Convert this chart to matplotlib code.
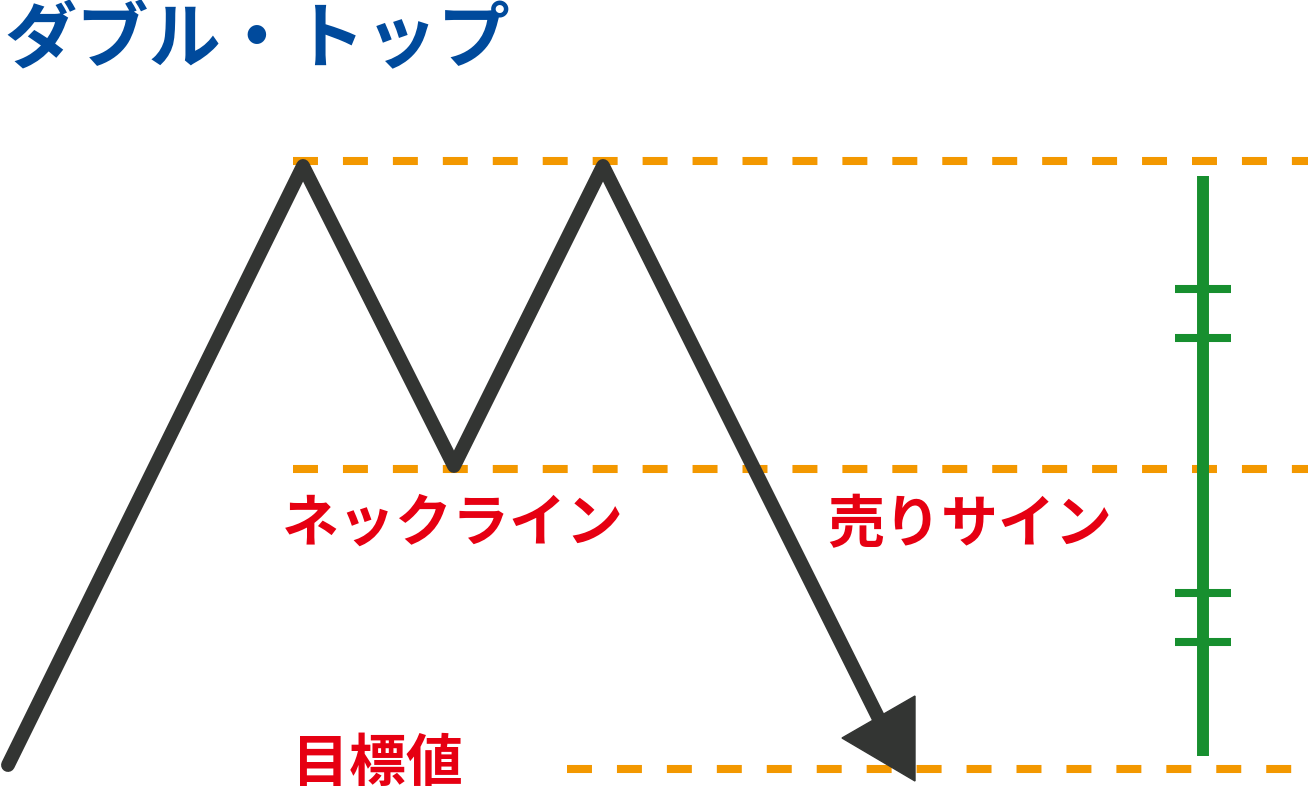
import matplotlib
matplotlib.use('Agg')
import matplotlib.pyplot as plt

plt.rcParams['font.family'] = ['Noto Sans CJK JP', 'DejaVu Sans']

# Price path of the double top (pixel-like coords, y grows downward)
path_x = [8, 303, 454, 603, 878]
path_y = [765, 166, 466, 166, 717]

# Arrowhead at the end of the path
head_x = [915, 842, 915]
head_y = [696, 738, 781]

# Horizontal guide lines: (y, x start)
guide_y = [161, 469, 769]
guide_x0 = [293, 293, 567]

# Green measuring bar
bar_x = 1203
bar_top, bar_bottom = 176, 756
bar_ticks = [289, 338, 593, 642]

labels = [
    ('ネックライン', 453, 524),
    ('売りサイン', 970, 525),
    ('目標値', 377, 764),
]

dark = '#333533'
orange = '#F39800'
green = '#178F2F'
red = '#E60012'
blue = '#004A9C'

fig = plt.figure(figsize=(13.08, 8.08), dpi=100)
ax = fig.add_axes([0, 0, 1, 1])
ax.set_xlim(0, 1308)
ax.set_ylim(808, 0)
ax.axis('off')

# Dashed guides (25px on / 25px off, 8px thick)
for y, x0 in zip(guide_y, guide_x0):
    ax.plot([x0, 1308], [y, y], color=orange, lw=5.8,
            linestyle=(0, (3.1, 3.1)), dash_capstyle='butt', zorder=1)

# Zigzag + arrow
ax.plot(path_x, path_y, color=dark, lw=10, solid_joinstyle='round',
        solid_capstyle='round', zorder=3)
ax.fill(head_x, head_y, color=dark, zorder=3)

# Measuring bar
ax.plot([bar_x, bar_x], [bar_top, bar_bottom], color=green, lw=8.6,
        solid_capstyle='butt', zorder=2)
for ty in bar_ticks:
    ax.plot([bar_x - 28, bar_x + 28], [ty, ty], color=green, lw=5.8,
            solid_capstyle='butt', zorder=2)

# Texts
ax.text(4, 41, 'ダブル・トップ', color=blue, fontsize=52, fontweight='bold',
        ha='left', va='center')
for txt, x, y in labels:
    ax.text(x, y, txt, color=red, fontsize=41, fontweight='bold',
            ha='center', va='center')

fig.savefig('out.png', dpi=100)
